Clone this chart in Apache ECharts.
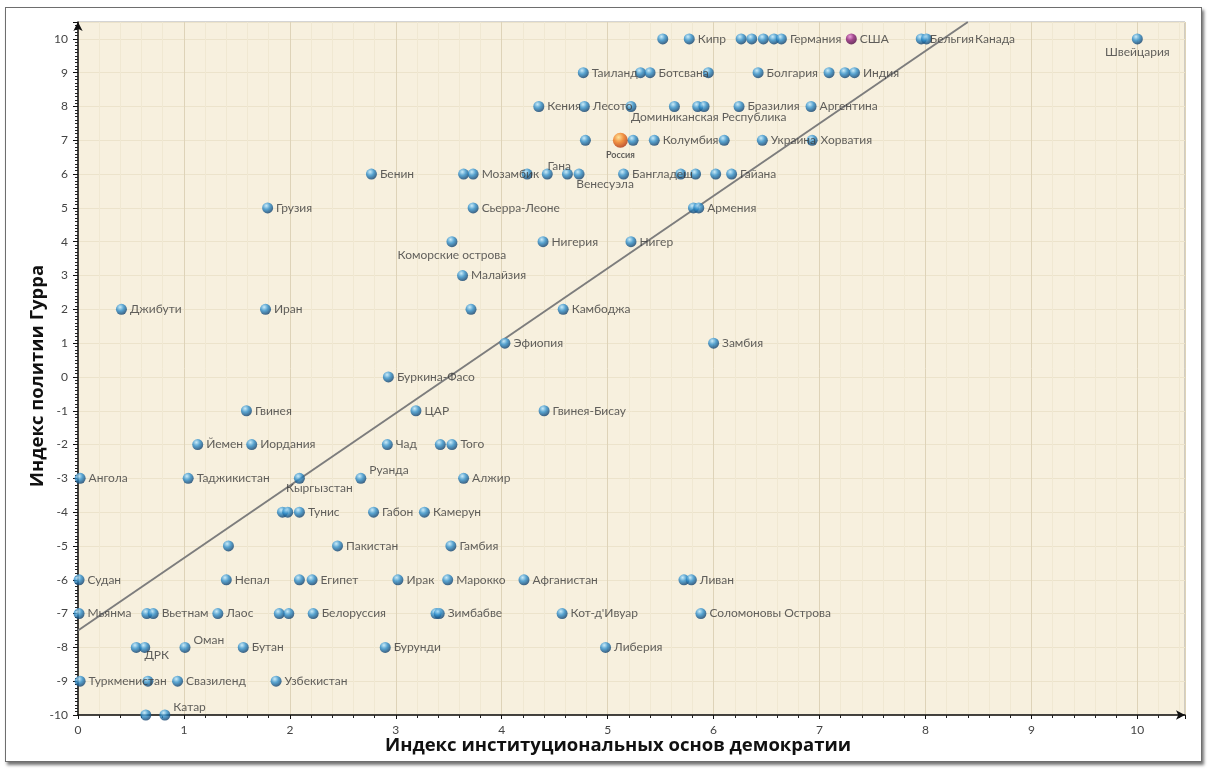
<!DOCTYPE html>
<html><head><meta charset="utf-8">
<script src="https://cdn.jsdelivr.net/npm/echarts@6/dist/echarts.min.js"></script>
<style>
html,body{margin:0;padding:0;background:#fff;}
#frame{position:absolute;left:5px;top:7px;width:1195px;height:753px;border:1px solid #6e6e6e;box-shadow:2px 3px 3px rgba(0,0,0,0.55);background:#fff;}
#c{position:absolute;left:0;top:0;width:1211px;height:773px;}
</style>
</head><body><div id="frame"></div><div id="c"></div>
<script>
// ---- data ----
const names = [
 '', 'Кипр', '', '', '', '', 'Германия', 'США', 'Бельгия', 'Канада', 'Швейцария',
 'Таиланд', '', 'Ботсвана', '', 'Болгария', '', '', 'Индия',
 'Кения', 'Лесото', '', '', 'Доминиканская Республика', '', 'Бразилия', 'Аргентина',
 '', 'Россия', '', 'Колумбия', '', 'Украина', 'Хорватия',
 'Бенин', '', 'Мозамбик', '', 'Гана', '', 'Венесуэла', 'Бангладеш', '', '', '', 'Гайана',
 'Грузия', 'Сьерра-Леоне', '', 'Армения',
 'Коморские острова', 'Нигерия', 'Нигер',
 'Малайзия',
 'Джибути', 'Иран', '', 'Камбоджа',
 'Эфиопия', 'Замбия',
 'Буркина-Фасо',
 'Гвинея', 'ЦАР', 'Гвинея-Бисау',
 'Йемен', 'Иордания', 'Чад', '', 'Того',
 'Ангола', 'Таджикистан', 'Кыргызстан', 'Руанда', 'Алжир',
 '', '', 'Тунис', 'Габон', 'Камерун',
 '', 'Пакистан', 'Гамбия',
 'Судан', 'Непал', '', 'Египет', 'Ирак', 'Марокко', 'Афганистан', '', 'Ливан',
 'Мьянма', '', 'Вьетнам', 'Лаос', '', '', 'Белоруссия', '', 'Зимбабве', "Кот-д'Ивуар", 'Соломоновы Острова',
 '', 'ДРК', 'Оман', 'Бутан', 'Бурунди', 'Либерия',
 'Туркменистан', '', 'Свазиленд', 'Узбекистан',
 '', 'Катар'
];
const instX = [
 5.52, 5.77, 6.26, 6.36, 6.47, 6.57, 6.64, 7.30, 7.96, 8.01, 10.0,
 4.77, 5.31, 5.40, 5.95, 6.42, 7.09, 7.24, 7.33,
 4.35, 4.78, 5.22, 5.63, 5.85, 5.91, 6.24, 6.92,
 4.79, 5.12, 5.24, 5.44, 6.10, 6.46, 6.93,
 2.77, 3.64, 3.73, 4.24, 4.43, 4.62, 4.73, 5.15, 5.69, 5.83, 6.02, 6.17,
 1.79, 3.73, 5.81, 5.86,
 3.53, 4.39, 5.22,
 3.63,
 0.41, 1.77, 3.71, 4.58,
 4.03, 6.00,
 2.93,
 1.59, 3.19, 4.40,
 1.13, 1.64, 2.92, 3.42, 3.53,
 0.02, 1.04, 2.09, 2.67, 3.64,
 1.93, 1.98, 2.09, 2.79, 3.27,
 1.42, 2.45, 3.52,
 0.01, 1.40, 2.09, 2.21, 3.02, 3.49, 4.21, 5.72, 5.79,
 0.01, 0.65, 0.71, 1.32, 1.90, 1.99, 2.22, 3.38, 3.41, 4.57, 5.88,
 0.55, 0.63, 1.01, 1.56, 2.90, 4.98,
 0.02, 0.66, 0.94, 1.87,
 0.64, 0.82
];
const polityY = [
 10, 10, 10, 10, 10, 10, 10, 10, 10, 10, 10,
 9, 9, 9, 9, 9, 9, 9, 9,
 8, 8, 8, 8, 8, 8, 8, 8,
 7, 7, 7, 7, 7, 7, 7,
 6, 6, 6, 6, 6, 6, 6, 6, 6, 6, 6, 6,
 5, 5, 5, 5,
 4, 4, 4,
 3,
 2, 2, 2, 2,
 1, 1,
 0,
 -1, -1, -1,
 -2, -2, -2, -2, -2,
 -3, -3, -3, -3, -3,
 -4, -4, -4, -4, -4,
 -5, -5, -5,
 -6, -6, -6, -6, -6, -6, -6, -6, -6,
 -7, -7, -7, -7, -7, -7, -7, -7, -7, -7, -7,
 -8, -8, -8, -8, -8, -8,
 -9, -9, -9, -9,
 -10, -10
];
const trendX = [0, 8.4];
const trendY = [-7.5, 10.5];
const xTitle = 'Индекс институциональных основ демократии';
const yTitle = 'Индекс политии Гурра';

// ---- styling helpers ----
function sphere(c0, c1, c2) {
  return new echarts.graphic.RadialGradient(0.38, 0.3, 0.75, [
    {offset: 0, color: c0}, {offset: 0.45, color: c1}, {offset: 1, color: c2}]);
}
const blue = sphere('#bfeaff', '#2f8fcc', '#0b3560');
const orange = sphere('#ffe08a', '#f07a1c', '#a8280a');
const purple = sphere('#e78ad8', '#8e1f7a', '#45063c');

const labelPlace = {
  'Швейцария': {position: 'bottom', distance: 2},
  'Россия': {position: 'bottom', distance: 3, fontWeight: 'bold', fontSize: 9},
  'Доминиканская Республика': {position: 'bottom', distance: 1, offset: [11, -2]},
  'Гана': {position: 'top', distance: 0, offset: [12, 4]},
  'Венесуэла': {position: 'bottom', distance: 1, offset: [26, -2]},
  'Коморские острова': {position: 'bottom', distance: 2},
  'Кыргызстан': {position: 'bottom', distance: 0, offset: [20, -2]},
  'Руанда': {position: 'right', offset: [0, -8]},
  'ДРК': {position: 'bottom', distance: 0, offset: [12, -4]},
  'Оман': {position: 'right', offset: [0, -7]},
  'Катар': {position: 'right', offset: [0, -8]},
  'Канада': {position: 'right', offset: [40, 0]}
};

const pts = names.map((n, i) => {
  const d = {name: n, value: [instX[i], polityY[i]]};
  if (n === 'Россия') { d.symbolSize = 15; d.itemStyle = {color: orange}; }
  if (n === 'США') { d.itemStyle = {color: purple}; }
  const lp = labelPlace[n];
  if (lp) d.label = Object.assign({}, lp);
  return d;
});

const chart = echarts.init(document.getElementById('c'), null, {renderer: 'canvas'});
const fontFam = 'Lato, "Open Sans", sans-serif';
const titleFont = 'bold 18.5px "Open Sans", sans-serif';
chart.setOption({
  animation: false,
  grid: {left: 78, right: 26, top: 22, bottom: 58, show: true,
         backgroundColor: '#f7f0de', borderColor: '#a8a8a8', borderWidth: 1},
  xAxis: {
    type: 'value', min: 0, max: 10.45, interval: 1,
    axisLine: {onZero: false, lineStyle: {color: '#111', width: 1.5}, symbol: ['none', 'arrow'], symbolSize: [7, 9]},
    axisTick: {lineStyle: {color: '#111'}, length: 4},
    minorTick: {show: true, splitNumber: 5, length: 3, lineStyle: {color: '#222'}},
    axisLabel: {color: '#444', fontSize: 12, fontFamily: fontFam, margin: 9,
      formatter: v => Number.isInteger(v) ? String(v) : ''},
    splitLine: {show: true, lineStyle: {color: '#ded3b8', width: 1}},
    minorSplitLine: {show: true, lineStyle: {color: '#f0e8d2', width: 1}}
  },
  yAxis: {
    type: 'value', min: -10, max: 10.5, interval: 1,
    axisLine: {show: true, onZero: false, lineStyle: {color: '#111', width: 1.5}, symbol: ['none', 'arrow'], symbolSize: [7, 9]},
    axisTick: {show: true, lineStyle: {color: '#111'}, length: 5},
    minorTick: {show: true, splitNumber: 10, length: 3, lineStyle: {color: '#222'}},
    axisLabel: {color: '#444', fontSize: 12, fontFamily: fontFam, margin: 10,
      formatter: v => Number.isInteger(v) ? String(v) : ''},
    splitLine: {show: true, lineStyle: {color: '#ece3cb', width: 1}},
    minorSplitLine: {show: false}
  },
  graphic: [
    {type: 'text', x: 618, y: 736,
      style: {text: xTitle, fill: '#111', font: titleFont, textAlign: 'center', textVerticalAlign: 'top'}},
    {type: 'text', rotation: Math.PI / 2, x: 38, y: 376,
      style: {text: yTitle, fill: '#111', font: titleFont, textAlign: 'center', textVerticalAlign: 'middle'}}
  ],
  series: [
    {type: 'line', data: trendX.map((x, i) => [x, trendY[i]]), symbol: 'none',
     lineStyle: {color: '#7d7d7d', width: 2}, z: 2, silent: true},
    {type: 'scatter', data: pts, symbolSize: 11, clip: false, z: 3,
     itemStyle: {color: blue},
     label: {show: true, position: 'right', distance: 3, formatter: '{b}',
       color: '#3a3a3a', fontSize: 12, fontFamily: fontFam}}
  ]
});
</script>
</body></html>
